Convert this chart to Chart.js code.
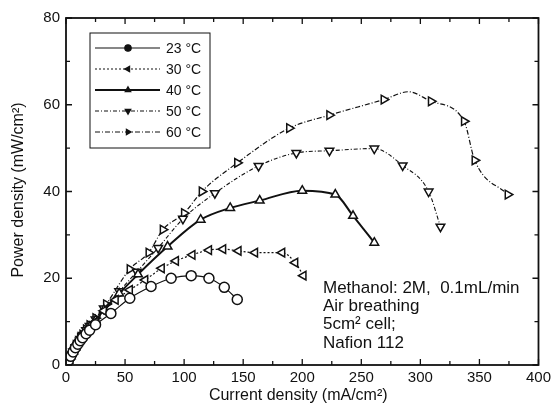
<!DOCTYPE html>
<html>
<head>
<meta charset="utf-8">
<script src="https://cdn.jsdelivr.net/npm/chart.js@4.4.1/dist/chart.umd.min.js"></script>
<style>
  html, body { margin: 0; padding: 0; background: #fff; }
  #wrap { width: 555px; height: 409px; }
</style>
</head>
<body>
<div id="wrap"><canvas id="chart" width="555" height="409"></canvas></div>
<script>
// datos (mA/cm2, mW/cm2)
const seriesNames = ['23 °C', '30 °C', '40 °C', '50 °C', '60 °C'];

const x23 = [0, 2, 4, 6, 8, 10, 12, 14, 17, 20, 25, 38, 54, 72, 89, 106, 121, 134, 145];
const y23 = [0, 1, 2, 3, 4, 4.8, 5.6, 6.3, 7.2, 8, 9.3, 11.9, 15.4, 18.1, 20, 20.6, 20, 17.9, 15.1];

const x30 = [0, 2, 4, 6, 8, 10, 12, 14, 17, 20, 25, 32, 42, 54, 67, 81, 93, 107, 121, 133, 146, 160, 183, 194, 201];
const y30 = [0, 1, 2, 3, 4, 5, 5.8, 6.6, 7.5, 8.5, 10, 12.5, 15, 17.3, 19.6, 22.3, 24, 25.4, 26.5, 26.7, 26.3, 25.9, 25.9, 23.6, 20.6];

const x40 = [0, 2, 4, 6, 8, 10, 12, 14, 17, 20, 25, 32, 45, 61, 86, 114, 139, 164, 200, 228, 243, 261];
const y40 = [0, 1, 2, 3.1, 4.1, 5.1, 6, 6.8, 7.8, 8.8, 10.3, 12.7, 16.5, 20.9, 27.3, 33.5, 36.2, 37.9, 40.2, 39.3, 34.4, 28.2];

const x50 = [0, 2, 4, 6, 8, 10, 12, 14, 17, 20, 25, 32, 45, 60, 78, 99, 126, 163, 195, 223, 261, 285, 307, 317];
const y50 = [0, 1, 2, 3.1, 4.1, 5.1, 6, 6.9, 8, 9, 10.5, 13, 17, 21.5, 27, 33.7, 39.6, 45.9, 48.9, 49.4, 49.9, 46, 40, 31.9];

// el punto 290/63 es solo el pico de la linea, sin marcador
const x60 = [0, 2, 4, 6, 8, 10, 12, 14, 17, 20, 25, 34, 54, 70, 82, 100, 115, 145, 189, 223, 269, 290, 309, 337, 346, 374];
const y60 = [0, 1, 2, 3.2, 4.2, 5.2, 6.2, 7, 8.2, 9.2, 10.8, 14, 22.1, 25.9, 31.2, 35, 40, 46.6, 54.6, 57.6, 61.2, 63, 60.8, 56.2, 47.2, 39.3];
const noMarker60 = [290];

const xTicks = [0, 50, 100, 150, 200, 250, 300, 350, 400];
const yTicks = [0, 20, 40, 60, 80];

const noteLines = ['Methanol: 2M,  0.1mL/min', 'Air breathing', '5cm² cell;', 'Nafion 112'];

const FONT = '"Liberation Sans", Arial, sans-serif';
const INK = '#111';

function pts(xs, ys) {
    return xs.map((x, i) => ({ x: x, y: ys[i] }));
}

// estilos de cada serie
const styles = [
    { style: 'circle', rot: 0, dash: [], width: 1.2, r: 5 },
    { style: 'triangle', rot: -90, dash: [2, 2], width: 1.2, r: 5 },
    { style: 'triangle', rot: 0, dash: [], width: 2, r: 5 },
    { style: 'triangle', rot: 180, dash: [4, 2, 1, 2], width: 1.1, r: 5 },
    { style: 'triangle', rot: 90, dash: [5, 2, 1, 2], width: 1.2, r: 5 }
];

const allX = [x23, x30, x40, x50, x60];
const allY = [y23, y30, y40, y50, y60];

const datasets = allX.map((xs, i) => {
    const s = styles[i];
    return {
        label: seriesNames[i],
        data: pts(xs, allY[i]),
        borderColor: INK,
        backgroundColor: '#fff',
        borderWidth: s.width,
        borderDash: s.dash,
        pointStyle: s.style,
        rotation: s.rot,
        pointRadius: i === 4 ? xs.map(x => noMarker60.includes(x) ? 0 : s.r) : s.r,
        pointBorderWidth: 1.5,
        pointBorderColor: INK,
        pointBackgroundColor: '#fff',
        tension: 0.35,
        cubicInterpolationMode: 'monotone'
    };
});

// marco, ticks hacia dentro, leyenda, textos
const decorPlugin = {
    id: 'decor',
    afterDraw(chart) {
        const ctx = chart.ctx;
        const a = chart.chartArea;
        const xs = chart.scales.x;
        const ys = chart.scales.y;
        ctx.save();
        ctx.strokeStyle = INK;
        ctx.fillStyle = INK;

        // marco
        ctx.lineWidth = 1.8;
        ctx.setLineDash([]);
        ctx.strokeRect(a.left, a.top, a.right - a.left, a.bottom - a.top);

        // ticks
        ctx.lineWidth = 1.3;
        ctx.beginPath();
        for (let v = 0; v <= 400; v += 25) {
            const px = xs.getPixelForValue(v);
            const len = v % 50 === 0 ? 6 : 4;
            ctx.moveTo(px, a.bottom); ctx.lineTo(px, a.bottom - len);
            ctx.moveTo(px, a.top); ctx.lineTo(px, a.top + len);
        }
        for (let v = 0; v <= 80; v += 10) {
            const py = ys.getPixelForValue(v);
            const len = v % 20 === 0 ? 6 : 4;
            ctx.moveTo(a.left, py); ctx.lineTo(a.left + len, py);
            ctx.moveTo(a.right, py); ctx.lineTo(a.right - len, py);
        }
        ctx.stroke();

        // titulos de ejes
        ctx.font = '16px ' + FONT;
        ctx.textAlign = 'center';
        ctx.textBaseline = 'middle';
        ctx.fillText('Current density (mA/cm²)', (a.left + a.right) / 2 - 4, 396);
        ctx.save();
        ctx.translate(19, 190);
        ctx.rotate(-Math.PI / 2);
        ctx.fillText('Power density (mW/cm²)', 0, 0);
        ctx.restore();

        // leyenda
        const lx = 90, ly = 33, lw = 120, lh = 115;
        ctx.lineWidth = 1;
        ctx.strokeRect(lx, ly, lw, lh);
        ctx.font = '14px ' + FONT;
        ctx.textAlign = 'left';
        const rowY = [48, 69, 90, 111, 132];
        chart.data.datasets.forEach((ds, i) => {
            const s = styles[i];
            const y = rowY[i];
            ctx.lineWidth = s.width;
            ctx.setLineDash(s.dash);
            ctx.beginPath();
            ctx.moveTo(95, y); ctx.lineTo(160, y);
            ctx.stroke();
            ctx.setLineDash([]);
            ctx.lineWidth = 1.2;
            Chart.helpers.drawPoint(ctx, {
                pointStyle: s.style, rotation: s.rot, radius: 3.2, borderWidth: 1.2
            }, 128, y);
            ctx.fillText(ds.label, 166, y + 1);
        });

        // nota
        ctx.font = '17px ' + FONT;
        ctx.textBaseline = 'middle';
        noteLines.forEach((t, i) => ctx.fillText(t, 323, 288 + i * 18.4));
        ctx.restore();
    }
};

new Chart(document.getElementById('chart'), {
    type: 'line',
    data: { datasets: datasets },
    options: {
        responsive: false,
        animation: false,
        layout: { padding: { top: 18, right: 15, left: 0, bottom: 0 } },
        plugins: { legend: { display: false }, tooltip: { enabled: false } },
        scales: {
            x: {
                type: 'linear',
                min: 0, max: 400,
                afterFit(s) { s.height = 44; },
                afterBuildTicks(s) { s.ticks = xTicks.map(v => ({ value: v })); },
                grid: { display: false, drawTicks: false },
                border: { display: false },
                ticks: { color: INK, font: { family: FONT, size: 15 }, padding: 4, maxRotation: 0 }
            },
            y: {
                type: 'linear',
                min: 0, max: 80,
                afterFit(s) { s.width = 66; },
                afterBuildTicks(s) { s.ticks = yTicks.map(v => ({ value: v })); },
                grid: { display: false, drawTicks: false },
                border: { display: false },
                ticks: { color: INK, font: { family: FONT, size: 15 }, padding: 6 }
            }
        }
    },
    plugins: [decorPlugin]
});
</script>
</body>
</html>
